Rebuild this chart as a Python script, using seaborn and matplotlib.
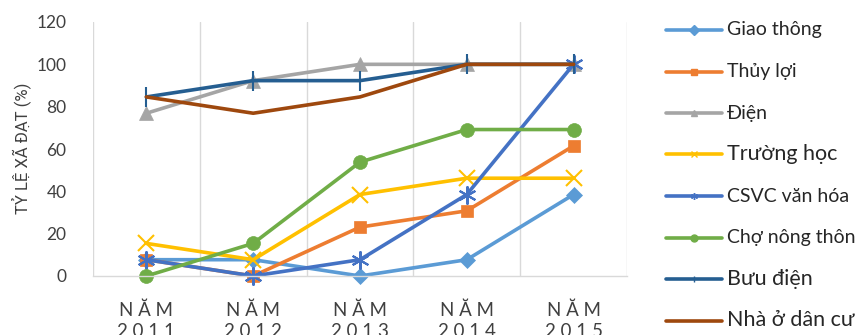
import matplotlib
matplotlib.use("Agg")
import matplotlib.pyplot as plt
from matplotlib.lines import Line2D
import seaborn as sns
import pandas as pd

years = ["2011", "2012", "2013", "2014", "2015"]
series_names = ["Giao thông", "Thủy lợi", "Điện", "Trường học",
                "CSVC văn hóa", "Chợ nông thôn", "Bưu điện", "Nhà ở dân cư"]

giao_thong = [7.7, 7.7, 0.0, 7.7, 38.5]
thuy_loi = [7.7, 0.0, 23.1, 30.8, 61.5]
dien = [76.9, 92.3, 100.0, 100.0, 100.0]
truong_hoc = [15.4, 7.7, 38.5, 46.2, 46.2]
csvc_van_hoa = [7.7, 0.0, 7.7, 38.5, 100.0]
cho_nong_thon = [0.0, 15.4, 53.8, 69.2, 69.2]
buu_dien = [84.6, 92.3, 92.3, 100.0, 100.0]
nha_o_dan_cu = [84.6, 76.9, 84.6, 100.0, 100.0]

all_values = [giao_thong, thuy_loi, dien, truong_hoc,
              csvc_van_hoa, cho_nong_thon, buu_dien, nha_o_dan_cu]

colors = ["#5B9BD5", "#ED7D31", "#A5A5A5", "#FFC000",
          "#4472C4", "#70AD47", "#255E91", "#9E480E"]
markers = ["D", "s", "^", "x", (6, 2, 0), "o", "|", ""]
msizes = [8, 9, 10, 11, 13, 10, 14, 0]
legend_sizes = [14, 14, 14, 15.5, 14, 14, 15.5, 15.5]

rows = []
for name, vals in zip(series_names, all_values):
    for i, v in enumerate(vals):
        rows.append({"year": i, "series": name, "value": v})
df = pd.DataFrame(rows)

sns.set_theme(style="white")
plt.rcParams["font.family"] = ["Lato", "Open Sans", "DejaVu Sans"]

W, H = 858, 335
fig = plt.figure(figsize=(W / 100, H / 100), dpi=100)
ax = fig.add_axes([93 / W, 1 - 276 / H, (627 - 93) / W, (276 - 22) / H])

for name, col, mk, ms in zip(series_names, colors, markers, msizes):
    sub = df[df["series"] == name]
    kw = {}
    if mk:
        thin = mk in ("x", "|") or isinstance(mk, tuple)
        kw = dict(marker=mk, markersize=ms, markeredgecolor=col,
                  markeredgewidth=1.5 if thin else 0.5)
    sns.lineplot(data=sub, x="year", y="value", color=col, linewidth=2.6,
                 ax=ax, legend=False, clip_on=False, **kw)

ax.set_xlim(-0.5, 4.5)
ax.set_ylim(0, 120)
ax.set_yticks(range(0, 121, 20))
ax.set_xticks(range(len(years)))
sp = "\u2005"
ax.set_xticklabels(["N" + sp + "Ă" + sp + "M\n" + sp.join(y) for y in years],
                   fontsize=13.5, color="#404040", linespacing=1.3)
ax.set_xticks([i - 0.5 for i in range(len(years) + 1)], minor=True)
ax.grid(axis="x", which="minor", color="#D9D9D9", linewidth=1.0)
ax.grid(axis="y", visible=False)
ax.tick_params(axis="x", which="both", length=0, pad=18)
ax.tick_params(axis="y", length=0, pad=19, labelsize=12.5, labelcolor="#404040")
for side in ("top", "right", "left"):
    ax.spines[side].set_visible(False)
ax.spines["bottom"].set_color("#D9D9D9")
ax.spines["bottom"].set_linewidth(1.0)
ax.set_xlabel("")
ax.set_ylabel("TỶ LỆ XÃ ĐẠT (%)", fontsize=12, color="#404040",
              family=["Roboto", "DejaVu Sans"])
ax.yaxis.set_label_coords((31 - 93) / (627 - 93), (276 - 148) / (276 - 22))

# legend drawn entry by entry in figure pixel coordinates
for i, (name, col, mk, fs) in enumerate(zip(series_names, colors, markers, legend_sizes)):
    yc = 1 - (30 + 41.5 * i) / H
    fig.add_artist(Line2D([666 / W, 722 / W], [yc, yc], color=col, linewidth=2.6,
                          transform=fig.transFigure))
    if mk:
        fig.add_artist(Line2D([694 / W], [yc], color=col, marker=mk, markersize=5,
                              markeredgecolor=col, markeredgewidth=1,
                              transform=fig.transFigure))
    fig.text(727 / W, yc, name, fontsize=fs, color="#262626", va="center", ha="left")

fig.savefig("out.png", dpi=100)
